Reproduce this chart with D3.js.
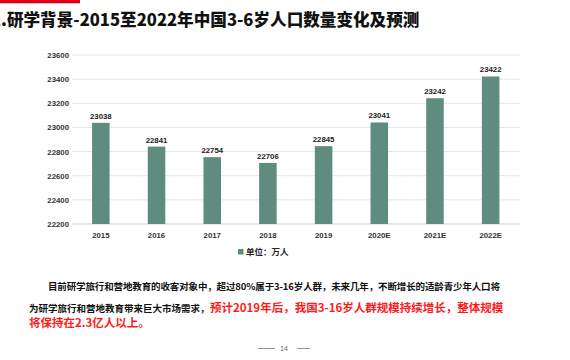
<!DOCTYPE html>
<html><head><meta charset="utf-8">
<script src="https://cdn.jsdelivr.net/npm/d3@7"></script>
<style>body{margin:0;background:#fff;}svg{display:block;}</style>
</head><body>
<script>
const categories = ["2015","2016","2017","2018","2019","2020E","2021E","2022E"];
const values = [23038,22841,22754,22706,22845,23041,23242,23422];
const yTicks = [22200,22400,22600,22800,23000,23200,23400,23600];
const title = "1.研学背景-2015至2022年中国3-6岁人口数量变化及预测";
const legendLabel = "单位：万人";
const para1 = "目前研学旅行和营地教育的收客对象中，超过80%属于3-16岁人群，未来几年，不断增长的适龄青少年人口将";
const para2a = "为研学旅行和营地教育带来巨大市场需求，";
const para2b = "预计2019年后，我国3-16岁人群规模持续增长，整体规模";
const para3 = "将保持在2.3亿人以上。";
const pageNo = "14";

const W = 570, H = 360;
const svg = d3.select("body").append("svg").attr("width", W).attr("height", H);
const cjk = "'Noto Sans CJK SC', 'Noto Sans', sans-serif";
const num = "'Liberation Sans', Arial, sans-serif";
const barColor = "#5f8c7e";

// top red bar
svg.append("rect").attr("x",0).attr("y",0).attr("width",80).attr("height",3.3).attr("fill","#d9001b");

// title
svg.append("text").attr("x",-9).attr("y",26)
  .attr("font-family",cjk).attr("font-weight",900).attr("font-size",16.6)
  .attr("fill","#111").text(title);

const x = d3.scaleBand().domain(categories).range([73,518.5]).paddingInner(0.685).paddingOuter(0.3425);
const y = d3.scaleLinear().domain([22200,23600]).range([224,55]);

// gridlines
svg.append("g").selectAll("line").data(yTicks).join("line")
  .attr("x1",72).attr("x2",520).attr("y1",d=>y(d)).attr("y2",d=>y(d))
  .attr("stroke",d=>d===22200?"#d0d0d0":"#e6e6e6").attr("stroke-width",1);

// y axis labels
const yAxis = d3.axisLeft(y).tickValues(yTicks).tickSize(0).tickPadding(0).tickFormat(d3.format("d"));
const gy = svg.append("g").attr("transform","translate(69,0)").call(yAxis);
gy.select(".domain").remove();
gy.selectAll("text").attr("font-family",num).attr("font-weight","bold").attr("font-size",7.8).attr("fill","#333");

// x axis labels
const xAxis = d3.axisBottom(x).tickSize(0).tickPadding(0);
const gx = svg.append("g").attr("transform","translate(0,232)").call(xAxis);
gx.select(".domain").remove();
gx.selectAll("text").attr("font-family",num).attr("font-weight","bold").attr("font-size",7.8).attr("fill","#333");

// bars
svg.append("g").selectAll("rect").data(values).join("rect")
  .attr("x",(d,i)=>x(categories[i])).attr("width",x.bandwidth())
  .attr("y",d=>y(d)).attr("height",d=>y(22200)-y(d)).attr("fill",barColor);

// value labels
svg.append("g").selectAll("text").data(values).join("text")
  .attr("x",(d,i)=>x(categories[i])+x.bandwidth()/2).attr("y",d=>y(d)-4)
  .attr("text-anchor","middle").attr("font-family",num).attr("font-weight","bold")
  .attr("font-size",7.8).attr("fill","#222").text(d=>d);

// legend
svg.append("rect").attr("x",238).attr("y",249).attr("width",5.5).attr("height",5.5).attr("fill",barColor);
svg.append("text").attr("x",246).attr("y",255).attr("font-family",cjk).attr("font-weight",700)
  .attr("font-size",8.5).attr("fill","#222").text(legendLabel);

// paragraph
svg.append("text").attr("x",48).attr("y",290).attr("font-family",cjk).attr("font-weight",700)
  .attr("font-size",9.5).attr("fill","#111").attr("textLength",452).attr("lengthAdjust","spacing").text(para1);
const l2 = svg.append("text").attr("x",29).attr("y",311.5).attr("font-family",cjk).attr("font-weight",700);
l2.append("tspan").attr("font-size",9.5).attr("fill","#111").text(para2a);
l2.append("tspan").attr("x",210).attr("font-size",11.5).attr("fill","#ff1a1a").text(para2b);
svg.append("text").attr("x",29).attr("y",327).attr("font-family",cjk).attr("font-weight",700)
  .attr("font-size",11.5).attr("fill","#ff1a1a").text(para3);

// page number
const pg = svg.append("g");
pg.append("line").attr("x1",258).attr("x2",275).attr("y1",348.5).attr("y2",348.5).attr("stroke","#777").attr("stroke-width",0.8);
pg.append("line").attr("x1",297).attr("x2",310).attr("y1",348.5).attr("y2",348.5).attr("stroke","#777").attr("stroke-width",0.8);
pg.append("text").attr("x",284).attr("y",351).attr("text-anchor","middle").attr("font-family",num)
  .attr("font-size",7).attr("fill","#666").text(pageNo);
</script>
</body></html>
